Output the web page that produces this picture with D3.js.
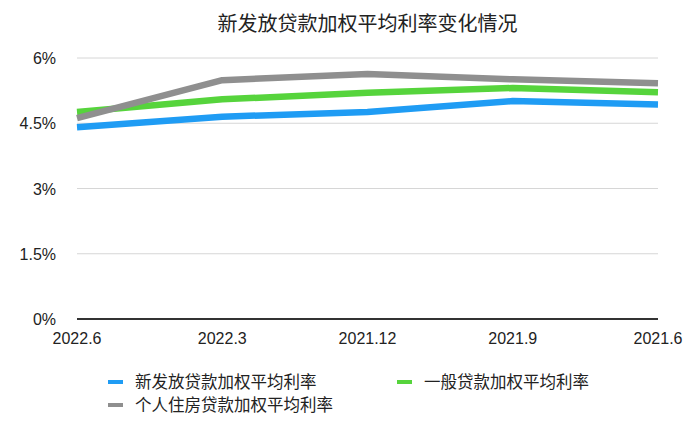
<!DOCTYPE html>
<html>
<head>
<meta charset="utf-8">
<script src="https://cdn.jsdelivr.net/npm/d3@7.9.0/dist/d3.min.js"></script>
<style>
  body { margin: 0; background: #fff; }
  svg { font-family: "Liberation Sans", "Noto Sans CJK SC", sans-serif; }
</style>
</head>
<body>
<svg id="chart" width="700" height="426"></svg>
<script>
// data
const periods = ['2022.6', '2022.3', '2021.12', '2021.9', '2021.6'];
const newLoanRate = [4.41, 4.65, 4.76, 5.01, 4.93];
const generalLoanRate = [4.76, 5.05, 5.20, 5.31, 5.21];
const mortgageRate = [4.62, 5.49, 5.63, 5.51, 5.42];
const yTicks = [0, 1.5, 3, 4.5, 6];
const yTickLabels = ['0%', '1.5%', '3%', '4.5%', '6%'];

const series = [
  { name: '新发放贷款加权平均利率', values: newLoanRate, color: '#1f9cf4' },
  { name: '一般贷款加权平均利率', values: generalLoanRate, color: '#56d43c' },
  { name: '个人住房贷款加权平均利率', values: mortgageRate, color: '#8f8f8f' }
];

const svg = d3.select('#chart');
const plotLeft = 77, plotRight = 658, plotTop = 58, plotBottom = 319;

let x = d3.scalePoint().domain(periods).range([plotLeft, plotRight]);
let y = d3.scaleLinear().domain([0, 6]).range([plotBottom, plotTop]);

// title
svg.append('text')
  .attr('x', (plotLeft + plotRight) / 2)
  .attr('y', 31)
  .attr('text-anchor', 'middle')
  .attr('font-size', 20)
  .attr('fill', '#222')
  .text('新发放贷款加权平均利率变化情况');

// grid lines
svg.append('g')
  .selectAll('line')
  .data(yTicks.filter(d => d > 0))
  .join('line')
  .attr('x1', plotLeft).attr('x2', plotRight)
  .attr('y1', d => y(d)).attr('y2', d => y(d))
  .attr('stroke', '#d6d6d6')
  .attr('stroke-width', 1);

// baseline
svg.append('line')
  .attr('x1', plotLeft).attr('x2', plotRight)
  .attr('y1', y(0)).attr('y2', y(0))
  .attr('stroke', '#333')
  .attr('stroke-width', 2);

// y labels
svg.append('g')
  .selectAll('text')
  .data(yTicks)
  .join('text')
  .attr('x', 56)
  .attr('y', d => y(d) + 6)
  .attr('text-anchor', 'end')
  .attr('font-size', 16)
  .attr('fill', '#222')
  .text((d, i) => yTickLabels[i]);

// x labels
svg.append('g')
  .selectAll('text')
  .data(periods)
  .join('text')
  .attr('x', d => x(d))
  .attr('y', 344)
  .attr('text-anchor', 'middle')
  .attr('font-size', 16)
  .attr('fill', '#222')
  .text(d => d);

// lines
let lineGen = d3.line()
  .x((d, i) => x(periods[i]))
  .y(d => y(d));

series.forEach(s => {
  svg.append('path')
    .attr('d', lineGen(s.values))
    .attr('fill', 'none')
    .attr('stroke', s.color)
    .attr('stroke-width', 6.5)
    .attr('stroke-linejoin', 'round');
});

// legend
const legendPos = [[108, 382], [397, 382], [108, 405]];
series.forEach((s, i) => {
  const [lx, ly] = legendPos[i];
  svg.append('line')
    .attr('x1', lx).attr('x2', lx + 15)
    .attr('y1', ly).attr('y2', ly)
    .attr('stroke', s.color)
    .attr('stroke-width', 4);
  svg.append('text')
    .attr('x', lx + 27)
    .attr('y', ly + 6)
    .attr('font-size', 16.5)
    .attr('fill', '#222')
    .text(s.name);
});
</script>
</body>
</html>
